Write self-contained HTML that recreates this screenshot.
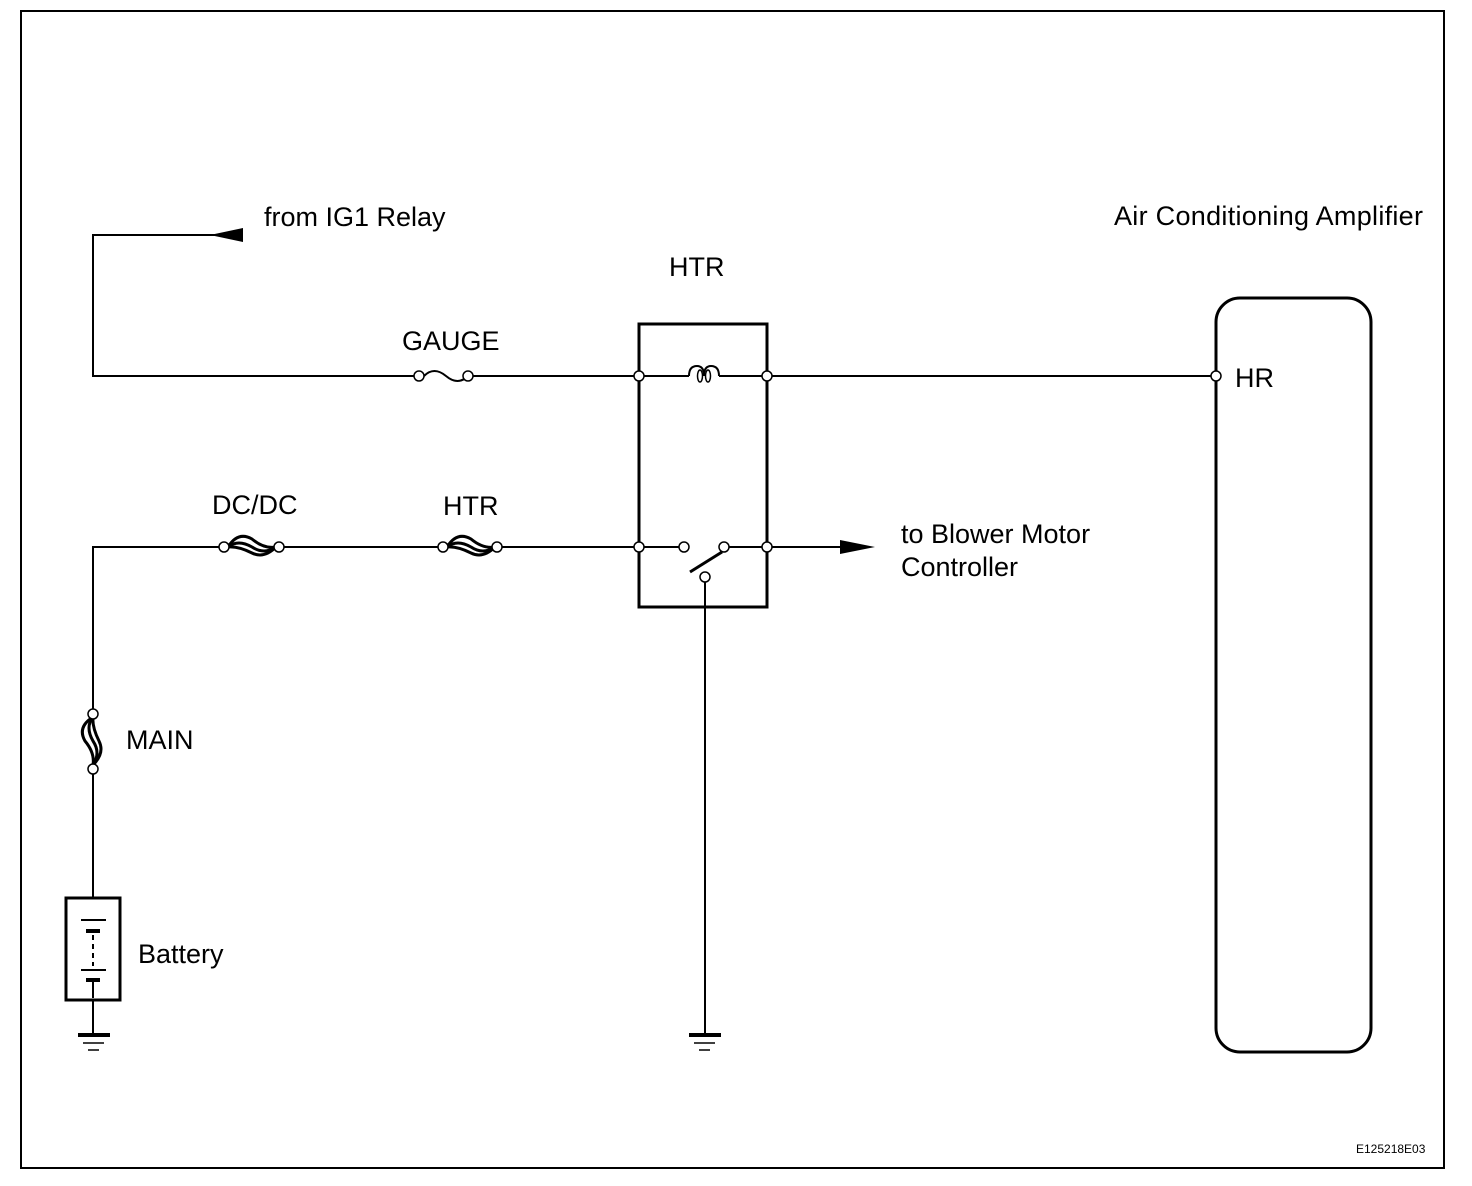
<!DOCTYPE html>
<html><head><meta charset="utf-8"><style>
html,body{margin:0;padding:0;background:#fff;}
svg{display:block;}
text{font-family:"Liberation Sans",sans-serif;font-size:27px;fill:#000;}
</style></head><body>
<svg width="1472" height="1186" viewBox="0 0 1472 1186" xmlns="http://www.w3.org/2000/svg">
<rect x="21" y="11" width="1423" height="1157" fill="none" stroke="#000" stroke-width="2"/>
<g stroke="#000" stroke-width="2" fill="none">
<polyline points="243,235 93,235 93,376 414,376"/>
<path d="M424,376 q10,-10 22,0 q12,10 22,0"/>
<line x1="468" y1="376" x2="639" y2="376"/>
<line x1="639" y1="376" x2="689" y2="376"/>
<path d="M689,376 q0,-10 8,-10 q7,0 7,10 q0,-10 7,-10 q8,0 8,10"/>
<ellipse cx="700" cy="376" rx="2.5" ry="6" stroke-width="1.5"/>
<ellipse cx="708" cy="376" rx="2.5" ry="6" stroke-width="1.5"/>
<line x1="719" y1="376" x2="1216" y2="376"/>
<polyline points="93,713 93,547 224,547"/>
<line x1="279" y1="547" x2="443" y2="547"/>
<line x1="497" y1="547" x2="684" y2="547"/>
<line x1="724" y1="547" x2="850" y2="547"/>
<line x1="705" y1="577" x2="705" y2="1035"/>
<line x1="93" y1="769" x2="93" y2="898"/>
<line x1="93" y1="1000" x2="93" y2="1035"/>
</g>
<polygon points="210,235 243,228 243,242" fill="#000"/>
<polygon points="875,547 840,540 840,554" fill="#000"/>
<g stroke="#000" stroke-width="3" fill="none">
<path d="M228,547 q10,-16 24,-8 q12,10 24,8"/>
<path d="M228,547 q10,-8 24,0 q12,8 24,0"/>
<path d="M228,547 q10,-1 24,6 q12,6 24,-6"/>
<path d="M447,547 q10,-16 24,-8 q12,10 24,8"/>
<path d="M447,547 q10,-8 24,0 q12,8 24,0"/>
<path d="M447,547 q10,-1 24,6 q12,6 24,-6"/>
<path d="M93,717 q-16,10 -8,24 q10,12 8,24"/>
<path d="M93,717 q-8,10 0,24 q8,12 0,24"/>
<path d="M93,717 q-1,10 6,24 q6,12 -6,24"/>
<line x1="690" y1="572" x2="722" y2="552"/>
</g>
<rect x="639" y="324" width="128" height="283" fill="none" stroke="#000" stroke-width="3"/>
<rect x="1216" y="298" width="155" height="754" rx="24" fill="none" stroke="#000" stroke-width="3"/>
<rect x="66" y="898" width="54" height="102" fill="none" stroke="#000" stroke-width="3"/>
<g stroke="#000">
<line x1="81" y1="920" x2="106" y2="920" stroke-width="2"/>
<line x1="86" y1="931" x2="100" y2="931" stroke-width="4"/>
<line x1="93" y1="935" x2="93" y2="966" stroke-width="2" stroke-dasharray="5,4"/>
<line x1="81" y1="970" x2="106" y2="970" stroke-width="2"/>
<line x1="86" y1="980" x2="100" y2="980" stroke-width="4"/>
<line x1="93" y1="982" x2="93" y2="998" stroke-width="2"/>
<line x1="78" y1="1035" x2="110" y2="1035" stroke-width="4"/>
<line x1="83" y1="1043" x2="104" y2="1043" stroke-width="1.5"/>
<line x1="88" y1="1050" x2="99" y2="1050" stroke-width="1.5"/>
<line x1="689" y1="1035" x2="721" y2="1035" stroke-width="4"/>
<line x1="694" y1="1043" x2="715" y2="1043" stroke-width="1.5"/>
<line x1="699" y1="1050" x2="710" y2="1050" stroke-width="1.5"/>
</g>
<g fill="#fff" stroke="#000" stroke-width="1.5">
<circle cx="419" cy="376" r="5"/><circle cx="468" cy="376" r="5"/>
<circle cx="639" cy="376" r="5"/><circle cx="767" cy="376" r="5"/>
<circle cx="1216" cy="376" r="5"/>
<circle cx="224" cy="547" r="5"/><circle cx="279" cy="547" r="5"/>
<circle cx="443" cy="547" r="5"/><circle cx="497" cy="547" r="5"/>
<circle cx="639" cy="547" r="5"/><circle cx="684" cy="547" r="5"/>
<circle cx="724" cy="547" r="5"/><circle cx="767" cy="547" r="5"/>
<circle cx="705" cy="577" r="5"/>
<circle cx="93" cy="714" r="5"/><circle cx="93" cy="769" r="5"/>
</g>
<text x="264" y="226">from IG1 Relay</text>
<text x="1114" y="225" textLength="309">Air Conditioning Amplifier</text>
<text x="669" y="276">HTR</text>
<text x="402" y="350">GAUGE</text>
<text x="1235" y="387">HR</text>
<text x="212" y="514">DC/DC</text>
<text x="443" y="515">HTR</text>
<text x="901" y="543">to Blower Motor</text>
<text x="901" y="576">Controller</text>
<text x="126" y="749">MAIN</text>
<text x="138" y="963">Battery</text>
<text x="1356" y="1153" style="font-size:12px">E125218E03</text>
</svg>
</body></html>
